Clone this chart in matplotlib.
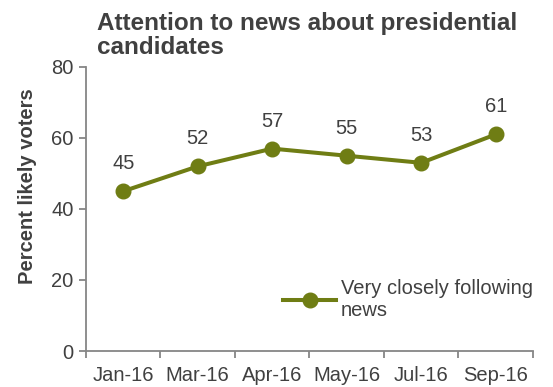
import numpy as np
import matplotlib.pyplot as plt

plt.rcParams['font.family'] = ['Liberation Sans', 'DejaVu Sans']

# survey months and share of likely voters following closely
months = ['Jan-16', 'Mar-16', 'Apr-16', 'May-16', 'Jul-16', 'Sep-16']
pct = [45, 52, 57, 55, 53, 61]

olive = '#6F7D14'
grey = '#868686'
txt = '#404040'

fig = plt.figure(figsize=(5.53, 3.87), dpi=100)
ax = fig.add_axes([0.1555, 0.093, 0.8083, 0.734])

x = np.arange(len(months))
ax.plot(x, pct, '-o', color=olive, lw=2.9, ms=10.5, label='Very closely following\nnews')
for xi, v in zip(x, pct):
    ax.annotate(str(v), (xi, v), xytext=(0, 13), textcoords='offset points',
                ha='center', va='bottom', fontsize=14.5, color=txt)

ax.set_xlim(-0.5, len(months) - 0.5)
ax.set_ylim(0, 80)
ax.set_yticks([0, 20, 40, 60, 80])
ax.set_xticks(x)
ax.set_xticklabels(months)
ax.set_xticks(np.arange(len(months) + 1) - 0.5, minor=True)
ax.tick_params(axis='x', which='major', length=0, pad=11, labelsize=14.5, labelcolor=txt)
ax.tick_params(axis='x', which='minor', length=5, width=1.3, color=grey, direction='out')
ax.tick_params(axis='y', length=5, width=1.3, color=grey, pad=4, labelsize=14.5, labelcolor=txt)

for s in ['top', 'right']:
    ax.spines[s].set_visible(False)
for s in ['left', 'bottom']:
    ax.spines[s].set_color(grey)
    ax.spines[s].set_linewidth(1.3)

ax.set_ylabel('Percent likely voters', fontsize=14.5, fontweight='bold', color=txt)
ax.yaxis.set_label_coords(-0.11, 0.58)

fig.text(0.175, 0.97, 'Attention to news about presidential\ncandidates', ha='left', va='top',
         fontsize=17.5, fontweight='bold', color=txt, linespacing=1.05)

leg = ax.legend(loc='lower right', bbox_to_anchor=(1.04, 0.045), frameon=False,
                fontsize=14.5, handlelength=2.6, handletextpad=0.25, labelcolor=txt)

fig.savefig('out.png', dpi=100)
